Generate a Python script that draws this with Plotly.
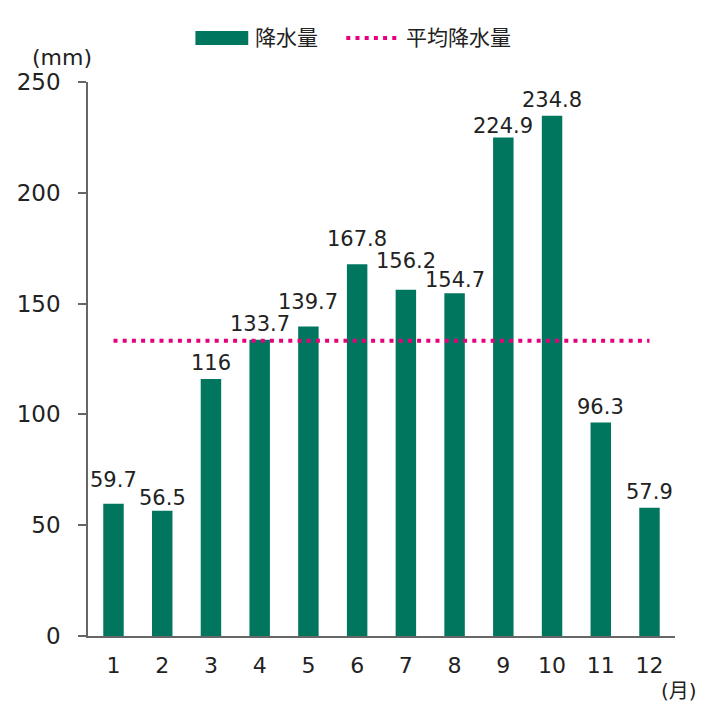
import plotly.graph_objects as go

# monthly precipitation
months = ["1", "2", "3", "4", "5", "6", "7", "8", "9", "10", "11", "12"]
rainfall = [59.7, 56.5, 116, 133.7, 139.7, 167.8, 156.2, 154.7, 224.9, 234.8, 96.3, 57.9]
rain_labels = ["59.7", "56.5", "116", "133.7", "139.7", "167.8", "156.2", "154.7", "224.9", "234.8", "96.3", "57.9"]
average = 133.2
y_ticks = [0, 50, 100, 150, 200, 250]

GREEN = "#00765f"
PINK = "#e6007e"
FONT = "DejaVu Sans, Noto Sans CJK JP"
TXT = "#222222"
AXIS = "#666666"

# extra pixel lift of some value labels so crowded ones don't collide
label_lift = {"1": 8, "2": -3, "5": 8, "6": 9, "7": 13, "8": -3, "9": -4}

fig = go.Figure()

fig.add_trace(go.Bar(
    x=months,
    y=rainfall,
    marker=dict(color=GREEN, line=dict(width=0)),
    name="降水量",
    showlegend=False,
    hoverinfo="x+y",
))

fig.add_trace(go.Scatter(
    x=[months[0], months[-1]],
    y=[average, average],
    mode="lines",
    line=dict(color=PINK, width=4, dash="4px,5.2px"),
    name="平均降水量",
    showlegend=False,
))

# value labels above bars (category index as x, numeric strings would be read as indices)
for i, (m, v, lab) in enumerate(zip(months, rainfall, rain_labels)):
    fig.add_annotation(x=i, y=v, text=lab, showarrow=False,
                       xanchor="center", yanchor="bottom",
                       yshift=2 + label_lift.get(m, 0),
                       font=dict(size=21, color=TXT))

# hand-made legend (paper coords)
fig.add_shape(type="rect", xref="paper", yref="paper",
              x0=0.183, x1=0.273, y0=1.067, y1=1.092,
              fillcolor=GREEN, line=dict(width=0))
fig.add_shape(type="line", xref="paper", yref="paper",
              x0=0.44, x1=0.53, y0=1.0794, y1=1.0794,
              line=dict(color=PINK, width=4, dash="4px,5.2px"))
fig.add_annotation(x=0.2815, y=1.0794, xref="paper", yref="paper",
                   text="降水量", showarrow=False, xanchor="left", yanchor="middle",
                   font=dict(size=21, color=TXT))
fig.add_annotation(x=0.538, y=1.0794, xref="paper", yref="paper",
                   text="平均降水量", showarrow=False, xanchor="left", yanchor="middle",
                   font=dict(size=21, color=TXT))

# unit labels
fig.add_annotation(x=-0.045, y=1.044, xref="paper", yref="paper",
                   text="(mm)", showarrow=False, xanchor="center", yanchor="middle",
                   font=dict(size=22, color=TXT))
fig.add_annotation(x=1.007, y=-0.099, xref="paper", yref="paper",
                   text="(月)", showarrow=False, xanchor="center", yanchor="middle",
                   font=dict(size=20, color=TXT))

# the page body adds 8px, so margins are shifted to keep the plot area in place
fig.update_layout(
    width=720,
    height=720,
    margin=dict(l=79.5, r=52.5, t=74, b=92),
    paper_bgcolor="white",
    plot_bgcolor="white",
    bargap=0.58,
    font=dict(family=FONT, color=TXT),
    xaxis=dict(
        type="category",
        automargin=False,
        showline=True,
        linecolor=AXIS,
        linewidth=1.5,
        ticks="",
        showgrid=False,
        tickfont=dict(size=22),
        ticklabelstandoff=9,
    ),
    yaxis=dict(
        range=[0, 250],
        automargin=False,
        tickvals=y_ticks,
        showline=True,
        linecolor=AXIS,
        linewidth=1.5,
        ticks="outside",
        ticklen=8,
        tickcolor=AXIS,
        tickwidth=1.5,
        showgrid=False,
        zeroline=False,
        tickfont=dict(size=23),
        ticklabelstandoff=13,
    ),
)

fig.write_html("out.html")
